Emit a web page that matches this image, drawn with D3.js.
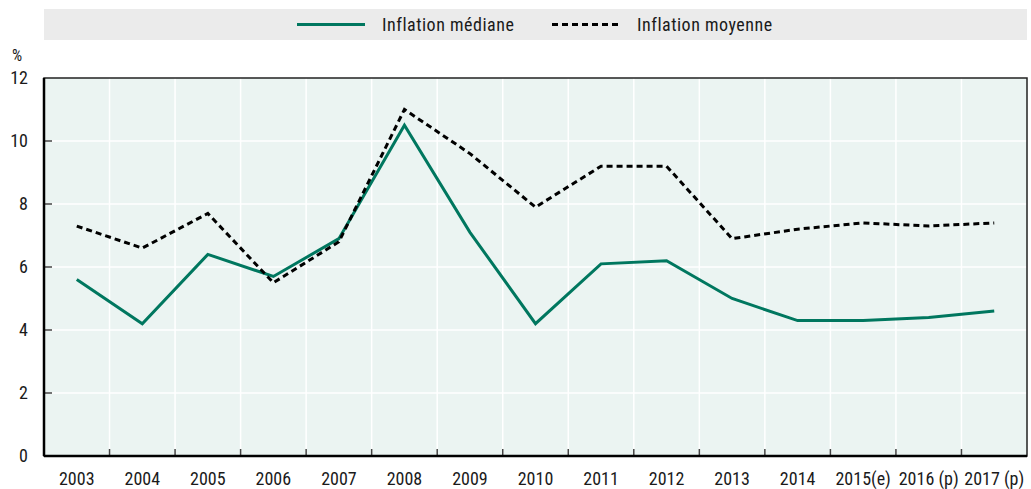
<!DOCTYPE html>
<html>
<head>
<meta charset="utf-8">
<script src="https://cdn.jsdelivr.net/npm/d3@7/dist/d3.min.js"></script>
<style>
  body { margin: 0; background: #fff; }
  text { font-family: "Liberation Sans Narrow", "Arial Narrow", "Roboto Condensed", sans-serif; font-weight: 400; fill: #1a1a1a; }
</style>
</head>
<body>
<script>
// categories (x axis)
var years = ["2003", "2004", "2005", "2006", "2007", "2008", "2009", "2010",
             "2011", "2012", "2013", "2014", "2015(e)", "2016 (p)", "2017 (p)"];

// series values, in %
var medianInflation = [5.6, 4.2, 6.4, 5.7, 6.9, 10.5, 7.1, 4.2, 6.1, 6.2, 5.0, 4.3, 4.3, 4.4, 4.6];
var meanInflation   = [7.3, 6.6, 7.7, 5.5, 6.8, 11.0, 9.6, 7.9, 9.2, 9.2, 6.9, 7.2, 7.4, 7.3, 7.4];

// y tick labels
var yTicks = [0, 2, 4, 6, 8, 10, 12];

var w = 1031, h = 489;
var margin = {top: 78, right: 4, bottom: 33, left: 44};

var svg = d3.select("body").append("svg")
    .attr("width", w)
    .attr("height", h);

var x = d3.scaleBand()
    .domain(years)
    .range([margin.left, w - margin.right]);

var y = d3.scaleLinear()
    .domain([0, 12])
    .range([h - margin.bottom, margin.top]);

//legend band
svg.append("rect")
    .attr("x", margin.left)
    .attr("y", 9)
    .attr("width", w - margin.right - margin.left)
    .attr("height", 31)
    .style("fill", "#ebebeb");

var legend = [
    {label: "Inflation médiane", x1: 297, x2: 365, tx: 382, color: "#00775f", dash: null},
    {label: "Inflation moyenne", x1: 552, x2: 618, tx: 637, color: "#000", dash: "6,4"}
];

svg.selectAll(".legendLine")
    .data(legend)
    .enter()
    .append("line")
    .attr("class", "legendLine")
    .attr("x1", function(d){ return d.x1; })
    .attr("x2", function(d){ return d.x2; })
    .attr("y1", 24.5)
    .attr("y2", 24.5)
    .style("stroke", function(d){ return d.color; })
    .style("stroke-width", 3)
    .style("stroke-dasharray", function(d){ return d.dash; });

svg.selectAll(".legendText")
    .data(legend)
    .enter()
    .append("text")
    .attr("class", "legendText")
    .attr("x", function(d){ return d.tx; })
    .attr("y", 31)
    .style("font-size", "18px")
    .style("letter-spacing", "0.5px")
    .text(function(d){ return d.label; });

//plot background
svg.append("rect")
    .attr("x", margin.left)
    .attr("y", margin.top)
    .attr("width", w - margin.right - margin.left)
    .attr("height", h - margin.bottom - margin.top)
    .style("fill", "#ebf4f2");

//horizontal grid
svg.selectAll(".hgrid")
    .data(yTicks.slice(1, -1))
    .enter()
    .append("line")
    .attr("class", "hgrid")
    .attr("x1", margin.left)
    .attr("x2", w - margin.right)
    .attr("y1", function(d){ return y(d); })
    .attr("y2", function(d){ return y(d); })
    .style("stroke", "#fff")
    .style("stroke-width", 1.5);

//vertical grid at category boundaries
var bounds = years.slice(1).map(function(d){ return x(d); });
svg.selectAll(".vgrid")
    .data(bounds)
    .enter()
    .append("line")
    .attr("class", "vgrid")
    .attr("x1", function(d){ return d; })
    .attr("x2", function(d){ return d; })
    .attr("y1", margin.top)
    .attr("y2", h - margin.bottom)
    .style("stroke", "#fff")
    .style("stroke-width", 1.5);

//x ticks pointing up
svg.selectAll(".xtick")
    .data(bounds)
    .enter()
    .append("line")
    .attr("class", "xtick")
    .attr("x1", function(d){ return d; })
    .attr("x2", function(d){ return d; })
    .attr("y1", h - margin.bottom)
    .attr("y2", h - margin.bottom - 7)
    .style("stroke", "#444")
    .style("stroke-width", 1.5);

//y ticks pointing right
svg.selectAll(".ytick")
    .data(yTicks.slice(1, -1))
    .enter()
    .append("line")
    .attr("class", "ytick")
    .attr("x1", margin.left)
    .attr("x2", margin.left + 8)
    .attr("y1", function(d){ return y(d); })
    .attr("y2", function(d){ return y(d); })
    .style("stroke", "#444")
    .style("stroke-width", 1.5);

//frame
svg.append("rect")
    .attr("x", margin.left)
    .attr("y", margin.top)
    .attr("width", w - margin.right - margin.left)
    .attr("height", h - margin.bottom - margin.top)
    .style("fill", "none")
    .style("stroke", "#222")
    .style("stroke-width", 1.5);

//x axis and y axis lines
svg.append("line")
    .attr("x1", margin.left)
    .attr("x2", w - margin.right)
    .attr("y1", h - margin.bottom)
    .attr("y2", h - margin.bottom)
    .style("stroke", "#000")
    .style("stroke-width", 2.5);

svg.append("line")
    .attr("x1", margin.left)
    .attr("x2", margin.left)
    .attr("y1", margin.top)
    .attr("y2", h - margin.bottom)
    .style("stroke", "#000")
    .style("stroke-width", 2.5);

//tick labels
svg.selectAll(".xlabel")
    .data(years)
    .enter()
    .append("text")
    .attr("class", "xlabel")
    .attr("x", function(d){ return x(d) + x.bandwidth() / 2; })
    .attr("y", h - 4)
    .attr("text-anchor", "middle")
    .style("font-size", "18px")
    .text(function(d){ return d; });

svg.selectAll(".ylabel")
    .data(yTicks)
    .enter()
    .append("text")
    .attr("class", "ylabel")
    .attr("x", 28)
    .attr("y", function(d){ return y(d) + 6; })
    .attr("text-anchor", "end")
    .style("font-size", "18px")
    .text(function(d){ return d; });

svg.append("text")
    .attr("x", 12)
    .attr("y", 61)
    .style("font-size", "16px")
    .text("%");

//lines
var line = d3.line()
    .x(function(d, i){ return x(years[i]) + x.bandwidth() / 2; })
    .y(function(d){ return y(d); });

svg.append("path")
    .datum(medianInflation)
    .attr("d", line)
    .style("fill", "none")
    .style("stroke", "#00775f")
    .style("stroke-width", 3);

svg.append("path")
    .datum(meanInflation)
    .attr("d", line)
    .style("fill", "none")
    .style("stroke", "#000")
    .style("stroke-width", 3)
    .style("stroke-dasharray", "6,4");
</script>
</body>
</html>
